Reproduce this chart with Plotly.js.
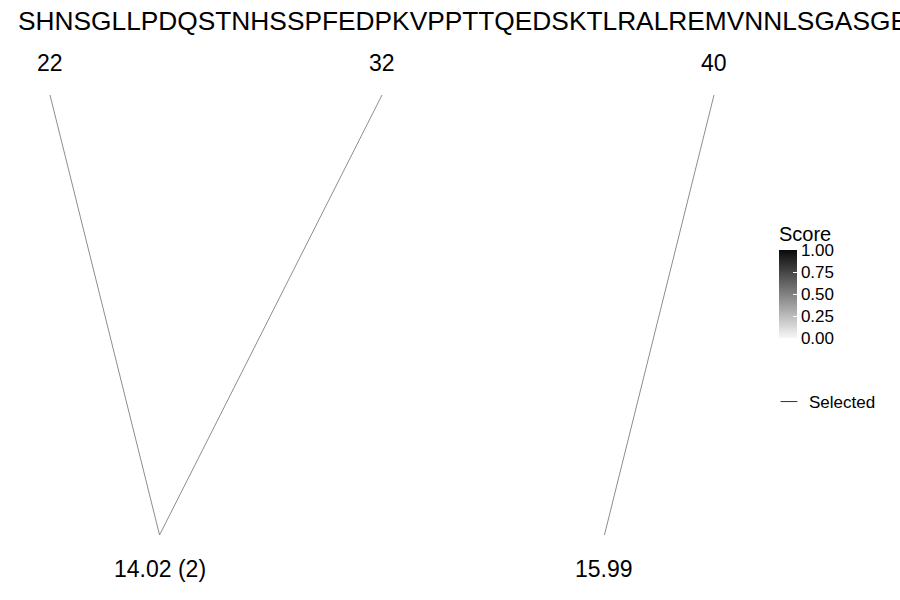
<!DOCTYPE html>
<html>
<head>
<meta charset="utf-8">
<script src="https://cdn.plot.ly/plotly-3.0.1.min.js"></script>
<style>html,body{margin:0;padding:0;background:#fff;}#chart{width:900px;height:600px;}</style>
</head>
<body>
<div id="chart"></div>
<script>
// ---- data ----
const sequence = "SHNSGLLPDQSTNHSSPFEDPKVPPTTQEDSKTLRALREMVNNLSGASGE";
const topPositions = ["22", "32", "40"];
const topIndex = [0, 1, 2];
const bottomLabels = ["14.02 (2)", "15.99"];
const bottomIndex = [0.33, 1.67];
const linkFrom = [0, 1, 2];   // index into topPositions
const linkTo = [0, 0, 1];     // index into bottomLabels
const scaleTicks = [0, 0.25, 0.5, 0.75, 1];
const scaleTickText = ["0.00", "0.25", "0.50", "0.75", "1.00"];

const FONT = "Liberation Sans, Arial, Helvetica, sans-serif";
const lineColor = "#707070";

const traces = [];
for (let k = 0; k < linkFrom.length; k++) {
  traces.push({
    type: "scatter", mode: "lines",
    x: [topIndex[linkFrom[k]], bottomIndex[linkTo[k]]],
    y: [1, 0],
    line: {color: lineColor, width: 0.8},
    showlegend: false, hoverinfo: "skip"
  });
}
// legend entry
traces.push({
  type: "scatter", mode: "markers", name: "Selected",
  x: [null], y: [null],
  marker: {symbol: "line-ew", size: 12, color: "#333", line: {color: "#333", width: 1}},
  showlegend: true
});
// colour scale
traces.push({
  type: "scatter", mode: "markers",
  x: [null, null], y: [null, null],
  marker: {
    color: [0, 1], cmin: 0, cmax: 1,
    colorscale: [[0, "#f7f7f7"], [1, "#0a0a0a"]],
    showscale: true,
    colorbar: {
      x: 779/900, xanchor: "left", xpad: 0,
      y: 1 - 338/600, yanchor: "bottom", ypad: 0,
      len: 115, lenmode: "pixels", thickness: 18, outlinewidth: 0,
      title: {text: "Score", side: "top", font: {size: 20, family: FONT, color: "#000"}},
      tickvals: scaleTicks, ticktext: scaleTickText,
      tickfont: {size: 17, family: FONT, color: "#000"},
      ticks: "inside", ticklen: 4, tickcolor: "#fff", tickwidth: 1
    }
  },
  showlegend: false, hoverinfo: "skip"
});

const annotations = [];
annotations.push({
  xref: "paper", yref: "paper", x: 16/900, y: 1 - 21/600,
  xanchor: "left", yanchor: "middle", text: sequence, showarrow: false,
  font: {size: 26.3, family: FONT, color: "#000"}
});
topPositions.forEach((t, i) => annotations.push({
  x: topIndex[i], y: 1, text: t, showarrow: false, yshift: 32,
  xanchor: "center", yanchor: "middle",
  font: {size: 23, family: FONT, color: "#000"}
}));
bottomLabels.forEach((t, i) => annotations.push({
  x: bottomIndex[i], y: 0, text: t, showarrow: false, yshift: -34,
  xanchor: "center", yanchor: "middle",
  font: {size: 23, family: FONT, color: "#000"}
}));

const layout = {
  width: 900, height: 600,
  margin: {l: 0, r: 0, t: 0, b: 0},
  paper_bgcolor: "#fff", plot_bgcolor: "#fff",
  xaxis: {visible: false, range: [-50/332, -50/332 + 900/332], fixedrange: true},
  yaxis: {visible: false, range: [-65/440, 1 + 95/440], fixedrange: true},
  showlegend: true,
  legend: {x: 769/900, xanchor: "left", y: 1 - 384/600, yanchor: "top",
           font: {size: 17, family: FONT, color: "#000"}, bgcolor: "rgba(0,0,0,0)"},
  annotations: annotations,
  font: {family: FONT}
};

Plotly.newPlot("chart", traces, layout, {displayModeBar: false, staticPlot: true});
</script>
</body>
</html>
